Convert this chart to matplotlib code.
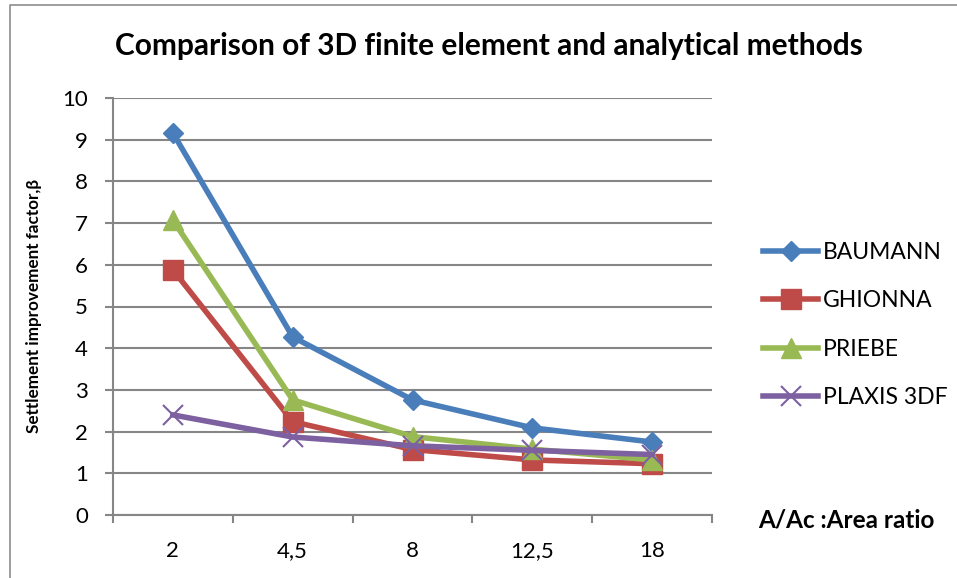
import numpy as np
import matplotlib.pyplot as plt
from matplotlib.lines import Line2D

categories = ["2", "4,5", "8", "12,5", "18"]
baumann = [9.16, 4.27, 2.76, 2.09, 1.75]
ghionna = [5.88, 2.24, 1.57, 1.32, 1.23]
priebe = [7.07, 2.76, 1.88, 1.58, 1.32]
plaxis = [2.40, 1.87, 1.66, 1.55, 1.45]

plt.rcParams['font.family'] = ['Lato', 'DejaVu Sans']

W, H = 957, 578
fig = plt.figure(figsize=(W / 100, H / 100), dpi=100)
ax = fig.add_axes([113 / W, 1 - 515 / H, (712 - 113) / W, (515 - 98) / H])

# chart border: only top and left edges are visible in the crop
fig.lines.append(Line2D([10 / W, 10 / W, 1], [0, 1 - 5 / H, 1 - 5 / H], transform=fig.transFigure,
                        color='#8c8c8c', lw=1.2))

x = np.arange(len(categories))
ax.plot(x, baumann, color='#4a7ebb', lw=4, marker='D', ms=10, label='BAUMANN', zorder=3)
ax.plot(x, ghionna, color='#be4b48', lw=4, marker='s', ms=14, label='GHIONNA', zorder=3)
ax.plot(x, priebe, color='#98b954', lw=4, marker='^', ms=14, label='PRIEBE', zorder=3)
ax.plot(x, plaxis, color='#7d60a0', lw=4, marker='x', ms=14, mew=1.5, label='PLAXIS 3DF', zorder=3)

ax.set_xlim(-0.5, len(categories) - 0.5)
ax.set_ylim(0, 10)
ax.set_yticks(range(0, 11))
ax.set_xticks(x)
ax.set_xticklabels(categories)
ax.set_xticks(np.arange(-0.5, len(categories)), minor=True)
ax.tick_params(axis='x', which='major', length=0, pad=19, labelsize=16)
ax.tick_params(axis='x', which='minor', length=6, color='#868686', width=1.5)
ax.tick_params(axis='y', length=6, color='#868686', width=1.5, labelsize=16, pad=12)
ax.yaxis.grid(True, color='#868686', lw=1.5)
ax.set_axisbelow(True)
for s in ['top', 'right']:
    ax.spines[s].set_visible(False)
for s in ['left', 'bottom']:
    ax.spines[s].set_color('#868686')
    ax.spines[s].set_linewidth(1.5)

fig.text(34 / W, 1 - 306 / H, 'Settlement improvement factor,β', rotation=90,
         ha='center', va='center', fontsize=12.3, fontweight='bold')
fig.text(489 / W, 1 - 55 / H, 'Comparison of 3D finite element and analytical methods',
         ha='center', va='baseline', fontsize=21.5, fontweight='bold')
fig.text(846 / W, 1 - 528 / H, 'A/Ac :Area ratio', ha='center', va='baseline',
         fontsize=17.5, fontweight='bold')

ax.legend(loc='center left', bbox_to_anchor=(763 / W, 1 - 325 / H), bbox_transform=fig.transFigure,
          frameon=False, fontsize=16.5, handlelength=2.4, labelspacing=1.2, handletextpad=0.2,
          borderpad=0, borderaxespad=0)

fig.savefig('out.png', dpi=100)
